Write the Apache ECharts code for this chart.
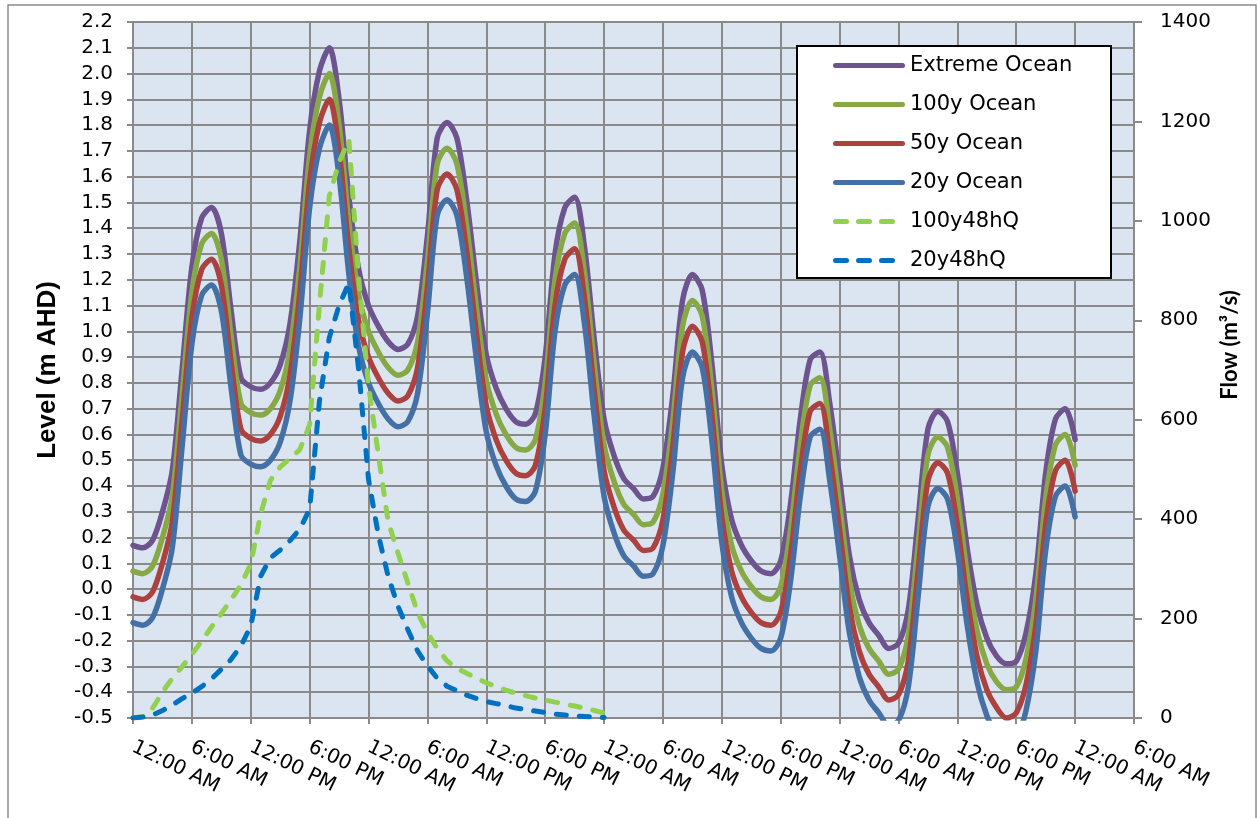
<!DOCTYPE html>
<html>
<head>
<meta charset="utf-8">
<script src="https://cdn.jsdelivr.net/npm/echarts@6/dist/echarts.min.js"></script>
<style>
html,body{margin:0;padding:0;background:#ffffff;}
#chart{width:1258px;height:818px;}
</style>
</head>
<body>
<div id="chart"></div>
<script>
// ---- tick labels (every 6 hours) ----
const xTickLabels = ['12:00 AM','6:00 AM','12:00 PM','6:00 PM','12:00 AM','6:00 AM','12:00 PM','6:00 PM',
  '12:00 AM','6:00 AM','12:00 PM','6:00 PM','12:00 AM','6:00 AM','12:00 PM','6:00 PM','12:00 AM','6:00 AM'];
const hourStep = 1; // hours between samples

const seriesNames = ['Extreme Ocean','100y Ocean','50y Ocean','20y Ocean','100y48hQ','20y48hQ'];

// ---- ocean levels (m AHD), hourly from hour 0 to 96 ----
const extremeOcean = [
  0.17, 0.16, 0.19, 0.30, 0.46, 0.85, 1.25, 1.44, 1.48, 1.38,
  1.08, 0.82, 0.785, 0.775, 0.80, 0.87, 1.03, 1.35, 1.78, 2.01,
  2.10, 1.90, 1.52, 1.24, 1.10, 1.02, 0.96, 0.93, 0.95, 1.06,
  1.37, 1.75, 1.81, 1.75, 1.51, 1.19, 0.91, 0.78, 0.70, 0.65,
  0.64, 0.68, 0.90, 1.30, 1.48, 1.52, 1.33, 0.97, 0.66, 0.52,
  0.43, 0.39, 0.35, 0.36, 0.47, 0.75, 1.12, 1.22, 1.16, 0.87,
  0.48, 0.27, 0.17, 0.11, 0.07, 0.06, 0.11, 0.33, 0.66, 0.89,
  0.92, 0.72, 0.43, 0.13, -0.04, -0.13, -0.18, -0.23, -0.21, -0.08,
  0.27, 0.62, 0.69, 0.65, 0.45, 0.16, -0.06, -0.19, -0.26, -0.29,
  -0.28, -0.17, 0.06, 0.45, 0.66, 0.70, 0.58
];
const ocean100y = [
  0.07, 0.06, 0.09, 0.20, 0.36, 0.75, 1.15, 1.34, 1.38, 1.28,
  0.98, 0.72, 0.685, 0.675, 0.70, 0.77, 0.93, 1.25, 1.68, 1.91,
  2.00, 1.80, 1.42, 1.14, 1.00, 0.92, 0.86, 0.83, 0.85, 0.96,
  1.27, 1.65, 1.71, 1.65, 1.41, 1.09, 0.81, 0.68, 0.60, 0.55,
  0.54, 0.58, 0.80, 1.20, 1.38, 1.42, 1.23, 0.87, 0.56, 0.42,
  0.33, 0.29, 0.25, 0.26, 0.37, 0.65, 1.02, 1.12, 1.06, 0.77,
  0.38, 0.17, 0.07, 0.01, -0.03, -0.04, 0.01, 0.23, 0.56, 0.79,
  0.82, 0.62, 0.33, 0.03, -0.14, -0.23, -0.28, -0.33, -0.31, -0.18,
  0.17, 0.52, 0.59, 0.55, 0.35, 0.06, -0.16, -0.29, -0.36, -0.39,
  -0.38, -0.27, -0.04, 0.35, 0.56, 0.60, 0.48
];
const ocean50y = [
  -0.03, -0.04, -0.01, 0.10, 0.26, 0.65, 1.05, 1.24, 1.28, 1.18,
  0.88, 0.62, 0.585, 0.575, 0.60, 0.67, 0.83, 1.15, 1.58, 1.81,
  1.90, 1.70, 1.32, 1.04, 0.90, 0.82, 0.76, 0.73, 0.75, 0.86,
  1.17, 1.55, 1.61, 1.55, 1.31, 0.99, 0.71, 0.58, 0.50, 0.45,
  0.44, 0.48, 0.70, 1.10, 1.28, 1.32, 1.13, 0.77, 0.46, 0.32,
  0.23, 0.19, 0.15, 0.16, 0.27, 0.55, 0.92, 1.02, 0.96, 0.67,
  0.28, 0.07, -0.03, -0.09, -0.13, -0.14, -0.09, 0.13, 0.46, 0.69,
  0.72, 0.52, 0.23, -0.07, -0.24, -0.33, -0.38, -0.43, -0.41, -0.28,
  0.07, 0.42, 0.49, 0.45, 0.25, -0.04, -0.26, -0.39, -0.46, -0.50,
  -0.48, -0.37, -0.14, 0.25, 0.46, 0.50, 0.38
];
const ocean20y = [
  -0.13, -0.14, -0.11, 0.00, 0.16, 0.55, 0.95, 1.14, 1.18, 1.08,
  0.78, 0.52, 0.485, 0.475, 0.50, 0.57, 0.73, 1.05, 1.48, 1.71,
  1.80, 1.60, 1.22, 0.94, 0.80, 0.72, 0.66, 0.63, 0.65, 0.76,
  1.07, 1.45, 1.51, 1.45, 1.21, 0.89, 0.61, 0.48, 0.40, 0.35,
  0.34, 0.38, 0.60, 1.00, 1.18, 1.22, 1.03, 0.67, 0.36, 0.22,
  0.13, 0.09, 0.05, 0.06, 0.17, 0.45, 0.82, 0.92, 0.86, 0.57,
  0.18, -0.03, -0.13, -0.19, -0.23, -0.24, -0.19, 0.03, 0.36, 0.59,
  0.62, 0.42, 0.13, -0.17, -0.34, -0.43, -0.48, -0.53, -0.51, -0.38,
  -0.03, 0.32, 0.39, 0.35, 0.15, -0.14, -0.36, -0.49, -0.56, -0.59,
  -0.58, -0.47, -0.24, 0.15, 0.36, 0.40, 0.28
];

// ---- river flows (m3/s), hourly from hour 0 to 48 ----
const flow100y48h = [
  0, 3, 20, 52, 80, 103, 128, 155, 183, 210,
  238, 268, 310, 410, 478, 505, 522, 540, 590, 832,
  1050, 1118, 1163, 885, 668, 530, 395, 332, 272, 212,
  172, 140, 115, 100, 90, 80, 71, 63, 56, 50,
  45, 40, 36, 32, 28, 24, 20, 15, 10
];
const flow20y48h = [
  0, 2, 6, 15, 26, 39, 50, 63, 79, 98,
  118, 145, 185, 285, 322, 338, 357, 380, 420, 638,
  765, 830, 875, 700, 480, 368, 285, 225, 178, 135,
  105, 80, 64, 55, 46, 39, 33, 29, 25, 20,
  17, 14, 11, 8, 6, 4, 3, 2, 1
];

const toPairs = arr => arr.map((v, i) => [i * hourStep, v]);

const gridColor = '#8a8a8a';
const tickFont = 'DejaVu Sans';
const solidIcon = 'path://M2.5,0 H69.5 A2.5,2.5 0 0 1 69.5,5 H2.5 A2.5,2.5 0 0 1 2.5,0 Z';
const dashIcon = 'path://M2.5,0 H13.5 A2.5,2.5 0 0 1 13.5,5 H2.5 A2.5,2.5 0 0 1 2.5,0 Z M25.5,0 H36.5 A2.5,2.5 0 0 1 36.5,5 H25.5 A2.5,2.5 0 0 1 25.5,0 Z M48.5,0 H59.5 A2.5,2.5 0 0 1 59.5,5 H48.5 A2.5,2.5 0 0 1 48.5,0 Z M71.9,2.4 L72,2.4 L72,2.6 L71.9,2.6 Z';

function oceanSeries(name, data, color) {
  return {
    name: name, type: 'line', yAxisIndex: 0, data: toPairs(data),
    symbol: 'none', showSymbol: false, smooth: 0.3, clip: true,
    lineStyle: { color: color, width: 5.5, cap: 'round', join: 'round' },
    itemStyle: { color: color }, z: 3
  };
}
function flowSeries(name, data, color) {
  return {
    name: name, type: 'line', yAxisIndex: 1, data: toPairs(data),
    symbol: 'none', showSymbol: false, smooth: false, clip: true,
    lineStyle: { color: color, width: 5, type: [10, 13], cap: 'round', join: 'round' },
    itemStyle: { color: color }, z: 4
  };
}

const chart = echarts.init(document.getElementById('chart'), null, { renderer: 'canvas' });
chart.setOption({
  animation: false,
  backgroundColor: '#ffffff',
  grid: { left: 133, right: 124, top: 22, bottom: 100, show: true, backgroundColor: '#DBE5F1', borderWidth: 0 },
  xAxis: {
    type: 'value', min: 0, max: 102, interval: 6,
    axisLine: { show: true, onZero: false, lineStyle: { color: gridColor, width: 2 } },
    axisTick: { show: true, length: 6, lineStyle: { color: gridColor, width: 2 } },
    splitLine: { show: true, lineStyle: { color: gridColor, width: 2 } },
    axisLabel: {
      rotate: -26, margin: 28, fontFamily: tickFont, fontSize: 20, color: '#000',
      showMinLabel: true, showMaxLabel: true,
      formatter: v => xTickLabels[Math.round(v / 6)]
    }
  },
  yAxis: [
    {
      type: 'value', min: -0.5, max: 2.2, interval: 0.1, position: 'left',
      axisLine: { show: true, lineStyle: { color: gridColor, width: 2 } },
      axisTick: { show: true, length: 6, lineStyle: { color: gridColor, width: 2 } },
      splitLine: { show: true, lineStyle: { color: gridColor, width: 2 } },
      axisLabel: {
        margin: 20, fontFamily: tickFont, fontSize: 20, color: '#000',
        showMinLabel: true, showMaxLabel: true,
        formatter: v => (Math.abs(v) < 1e-9 ? 0 : v).toFixed(1)
      }
    },
    {
      type: 'value', min: 0, max: 1400, interval: 200, position: 'right',
      axisLine: { show: true, lineStyle: { color: gridColor, width: 2 } },
      axisTick: { show: true, length: 8, lineStyle: { color: gridColor, width: 2 } },
      splitLine: { show: false },
      axisLabel: { margin: 26, fontFamily: tickFont, fontSize: 20, color: '#000', showMinLabel: true, showMaxLabel: true,
        formatter: v => String(v) }
    }
  ],
  legend: {
    show: true, orient: 'vertical', left: 828, top: 50, z: 10,
    itemWidth: 72, itemHeight: 5, itemGap: 18, symbolKeepAspect: false,
    textStyle: { fontFamily: tickFont, fontSize: 21, color: '#000' },
    data: [
      { name: seriesNames[0], icon: solidIcon },
      { name: seriesNames[1], icon: solidIcon },
      { name: seriesNames[2], icon: solidIcon },
      { name: seriesNames[3], icon: solidIcon },
      { name: seriesNames[4], icon: dashIcon },
      { name: seriesNames[5], icon: dashIcon }
    ]
  },
  graphic: [
    { type: 'rect', silent: true, z: 0, shape: { x: 8, y: 5, width: 1248, height: 830 },
      style: { fill: null, stroke: '#8c8c8c', lineWidth: 1.5 } },
    { type: 'rect', silent: true, z: 9, shape: { x: 797, y: 46, width: 314, height: 232 },
      style: { fill: '#ffffff', stroke: '#000000', lineWidth: 2 } },
    { type: 'text', silent: true, z: 10, x: 48, y: 370, rotation: Math.PI / 2,
      style: { text: 'Level (m AHD)', font: 'bold 26px "Liberation Sans"', fill: '#000', align: 'center', verticalAlign: 'middle' } },
    { type: 'text', silent: true, z: 10, x: 1230, y: 345, rotation: Math.PI / 2,
      style: { text: 'Flow (m³/s)', font: 'bold 22px Lato', fill: '#000', align: 'center', verticalAlign: 'middle' } }
  ],
  series: [
    oceanSeries(seriesNames[0], extremeOcean, '#6E548F'),
    oceanSeries(seriesNames[1], ocean100y, '#86A845'),
    oceanSeries(seriesNames[2], ocean50y, '#AC423F'),
    oceanSeries(seriesNames[3], ocean20y, '#4470A5'),
    flowSeries(seriesNames[4], flow100y48h, '#92D050'),
    flowSeries(seriesNames[5], flow20y48h, '#0070C0')
  ]
});
</script>
</body>
</html>
